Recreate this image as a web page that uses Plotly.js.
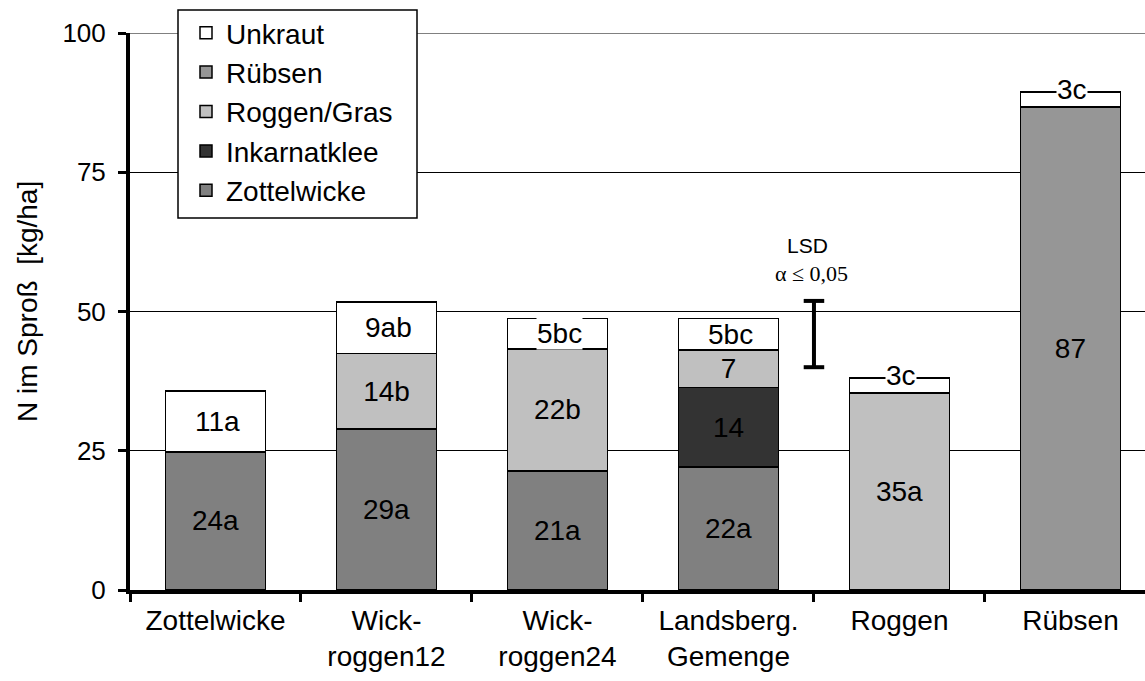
<!DOCTYPE html>
<html>
<head>
<meta charset="utf-8">
<script src="https://cdn.plot.ly/plotly-3.0.1.min.js"></script>
<style>html,body{margin:0;padding:0;background:#fff;}#chart{width:1145px;height:681px;}</style>
</head>
<body>
<div id="chart"></div>
<script>
// ---- data ----
const categories = ['Zottelwicke', 'Wick-<br>roggen12', 'Wick-<br>roggen24', 'Landsberg.<br>Gemenge', 'Roggen', 'Rübsen'];
const zottelwicke = [24.8, 28.9, 21.4, 22.1, null, null];
const inkarnatklee = [null, null, null, 14.3, null, null];
const roggenGras = [null, 13.6, 21.9, 6.7, 35.4, null];
const ruebsen = [null, null, null, null, null, 86.7];
const unkraut = [10.9, 9.2, 5.4, 5.6, 2.7, 2.7];

const zottelLabels = ['24a', '29a', '21a', '22a', '', ''];
const inkarnatLabels = ['', '', '', '14', '', ''];
const roggenLabels = ['', '14b', '22b', '7', '35a', ''];
const ruebsenLabels = ['', '', '', '', '', '87'];
const unkrautLabels = ['11a', '9ab', '5bc', '5bc', '3c', '3c'];

const lsdValue = 11.9;   // LSD alpha <= 0.05
const lsdCenter = 45.95;
const lsdPos = 3.5;      // between Landsberg. Gemenge and Roggen

const yTicks = [0, 25, 50, 75, 100];
const yTitle = 'N im Sproß\u00a0 [kg/ha]';

// ---- styling ----
const FONT = 'Liberation Sans, Arial, sans-serif';
const FS = 28;
const colors = {z: '#808080', i: '#333333', r: '#c0c0c0', b: '#969696', u: '#ffffff'};
const BW = 0.585;
// plot geometry helpers (px -> paper)
const L = 130, T = 33, PW = 1015, PH = 557;
const px = v => (v - L) / PW;
const py = v => (T + PH - v) / PH;

function barTrace(name, vals, labels, color, rank) {
  return {
    type: 'bar', name: name, x: categories, y: vals, text: labels,
    textposition: 'inside', insidetextanchor: 'middle', constraintext: 'none', textangle: 0,
    textfont: {family: FONT, size: FS, color: '#000'},
    marker: {color: color, line: {color: '#000', width: 1.5}},
    width: BW, legendgroup: name, legendrank: rank, hoverinfo: 'skip'
  };
}

const traces = [
  barTrace('Zottelwicke', zottelwicke, zottelLabels, colors.z, 5),
  barTrace('Inkarnatklee', inkarnatklee, inkarnatLabels, colors.i, 4),
  barTrace('Roggen/Gras', roggenGras, roggenLabels, colors.r, 3),
  barTrace('Rübsen', ruebsen, ruebsenLabels, colors.b, 2),
  barTrace('Unkraut', unkraut, unkrautLabels.map(() => ''), colors.u, 1)
];

// Unkraut labels as annotations (white backing where label overruns the thin segment)
const annotations = [];
categories.forEach((c, i) => {
  const base = (zottelwicke[i] || 0) + (inkarnatklee[i] || 0) + (roggenGras[i] || 0) + (ruebsen[i] || 0);
  const thin = unkraut[i] < 5.5;
  annotations.push({
    x: c, y: base + unkraut[i] / 2, xref: 'x', yref: 'y', text: unkrautLabels[i],
    showarrow: false, font: {family: FONT, size: FS, color: '#000'},
    bgcolor: thin ? '#ffffff' : 'rgba(0,0,0,0)', borderpad: 0,
    yshift: unkraut[i] < 4 ? 10 : 0, xshift: 2
  });
});
annotations.push({x: lsdPos, y: lsdCenter + lsdValue / 2 + 10, xref: 'x', yref: 'y', text: 'LSD',
  showarrow: false, font: {family: FONT, size: 21, color: '#000'}, xshift: -6});
annotations.push({x: lsdPos, y: lsdCenter + lsdValue / 2 + 5, xref: 'x', yref: 'y', text: 'α ≤ 0,05',
  showarrow: false, font: {family: 'Liberation Serif, Times New Roman, serif', size: 22, color: '#000'}, xshift: -2});
annotations.push({x: px(27), y: py(302), xref: 'paper', yref: 'paper', text: yTitle, textangle: -90,
  showarrow: false, xanchor: 'center', yanchor: 'middle', font: {family: FONT, size: FS, color: '#000'}});

const shapes = [
  // top gridline lighter
  {type: 'line', xref: 'paper', yref: 'y', x0: 0, x1: 1, y0: 100, y1: 100, line: {color: '#808080', width: 2}, layer: 'below'},
  // legend frame
  {type: 'rect', xref: 'paper', yref: 'paper', x0: px(178), x1: px(417), y0: py(218), y1: py(10),
   fillcolor: '#fff', line: {color: '#000', width: 1.5}, layer: 'above'},
  // LSD I-beam
  {type: 'line', xref: 'x', yref: 'y', x0: lsdPos, x1: lsdPos, y0: lsdCenter - lsdValue / 2, y1: lsdCenter + lsdValue / 2, line: {color: '#000', width: 4}},
  {type: 'line', xref: 'x', yref: 'y', x0: lsdPos - 0.06, x1: lsdPos + 0.06, y0: lsdCenter - lsdValue / 2, y1: lsdCenter - lsdValue / 2, line: {color: '#000', width: 4}},
  {type: 'line', xref: 'x', yref: 'y', x0: lsdPos - 0.06, x1: lsdPos + 0.06, y0: lsdCenter + lsdValue / 2, y1: lsdCenter + lsdValue / 2, line: {color: '#000', width: 4}}
];

const layout = {
  width: 1145, height: 681,
  margin: {l: L, r: 0, t: T, b: 681 - T - PH},
  paper_bgcolor: '#fff', plot_bgcolor: '#fff',
  font: {family: FONT, size: FS, color: '#000'},
  barmode: 'stack', bargap: 0.4,
  showlegend: true,
  legend: {
    x: px(186), y: py(8), xanchor: 'left', yanchor: 'top',
    bgcolor: 'rgba(0,0,0,0)', borderwidth: 0,
    font: {family: FONT, size: FS, color: '#000'},
    traceorder: 'normal', tracegroupgap: 6
  },
  xaxis: {
    type: 'category', range: [-0.5, 5.436],
    showline: true, linecolor: '#000', linewidth: 4,
    ticks: 'outside', tickson: 'boundaries', ticklen: 8, tickwidth: 3, tickcolor: '#000',
    ticklabelstandoff: 2,
    showgrid: false, zeroline: false, fixedrange: true,
    tickfont: {family: FONT, size: FS, color: '#000'}
  },
  yaxis: {
    range: [0, 100], tickvals: yTicks, ticktext: yTicks.map(String),
    showline: true, linecolor: '#000', linewidth: 4,
    ticks: 'outside', ticklen: 8, tickwidth: 3, tickcolor: '#000',
    ticklabelstandoff: 7,
    showgrid: true, gridcolor: '#000', gridwidth: 1, zeroline: false,
    tickfont: {family: FONT, size: 26, color: '#000'},
    fixedrange: true
  },
  annotations: annotations,
  shapes: shapes
};

Plotly.newPlot('chart', traces, layout, {displayModeBar: false, staticPlot: true});
</script>
</body>
</html>
